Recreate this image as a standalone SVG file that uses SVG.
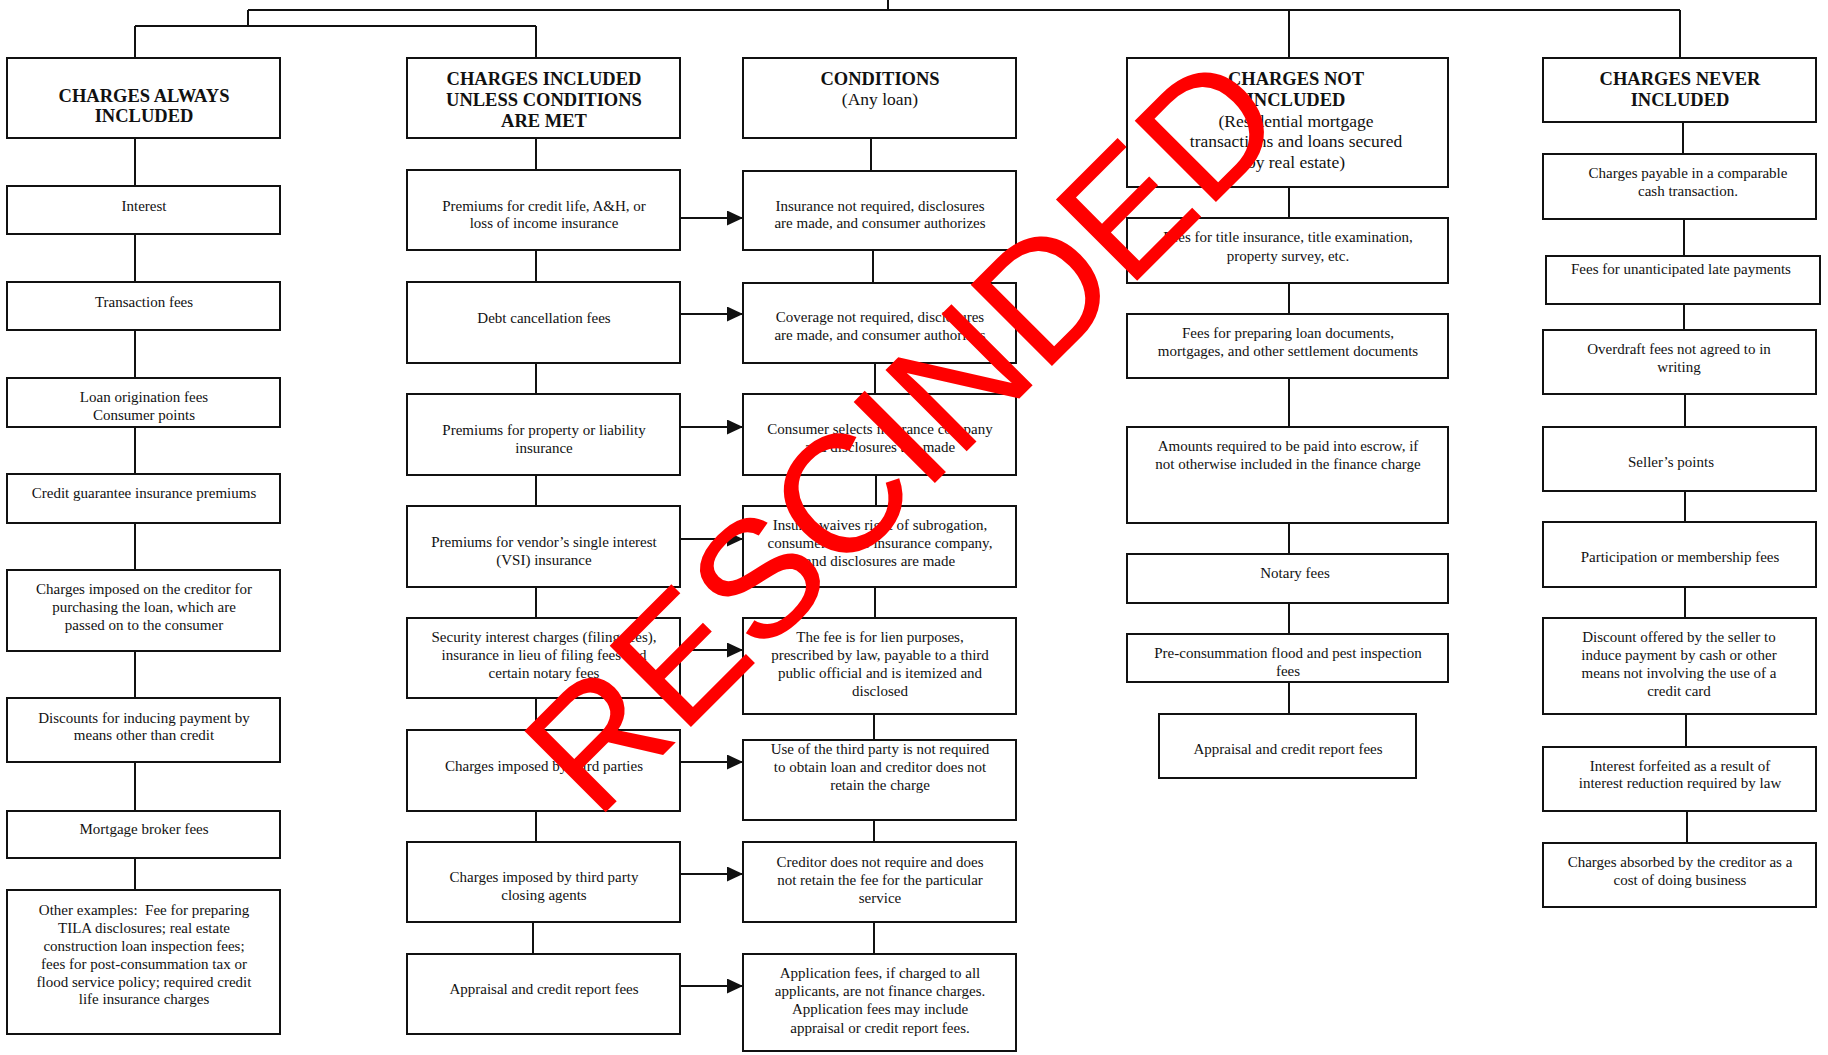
<svg xmlns="http://www.w3.org/2000/svg" width="1828" height="1055" viewBox="0 0 1828 1055">
<style>
.box{fill:#fff;stroke:#111;stroke-width:2}
.t{font-family:"Liberation Serif","Times New Roman",serif;font-size:15px;fill:#111;text-anchor:middle}
.h{font-weight:bold;font-size:18.5px}
.s{font-size:17.5px}
.c{stroke:#111;stroke-width:2;fill:none}
.wm{font-family:"Liberation Sans",Arial,sans-serif;font-size:167px;fill:#ff0000}
</style>
<defs>
<marker id="ah" markerUnits="userSpaceOnUse" markerWidth="16" markerHeight="16" refX="16" refY="7.5" orient="auto">
<path d="M0,0 L16,7.5 L0,15 z" fill="#111"/>
</marker>
</defs>
<rect width="1828" height="1055" fill="#fff"/>
<g id="connectors" class="c">
<path d="M888,0 V10 M248,10 H1680 M248,10 V26 M135,26 H536 M135,26 V58 M536,26 V58 M1289,10 V58 M1680,10 V58"/>
<path d="M135,138 V186 M135,234 V282 M135,330 V378 M135,427 V474 M135,523 V570 M135,651 V698 M135,762 V811 M135,858 V890"/>
<path d="M536,138 V170 M536,250 V282 M536,363 V394 M536,475 V506 M536,587 V618 M536,698 V730 M536,811 V842 M533,922 V954"/>
<path d="M871,138 V171 M873,250 V283 M875,363 V394 M876,475 V506 M875,587 V618 M874,714 V740 M874,820 V842 M874,922 V954"/>
<path d="M1289,187 V218 M1289,283 V314 M1289,378 V427 M1289,523 V554 M1289,603 V634 M1289,682 V714"/>
<path d="M1683,122 V154 M1684,219 V256 M1684,304 V330 M1685,394 V427 M1685,491 V522 M1685,587 V618 M1686,714 V747 M1687,811 V843"/>
<g marker-end="url(#ah)">
<path d="M681,218 H743"/><path d="M681,314 H743"/><path d="M681,427 H743"/><path d="M681,539 H743"/>
<path d="M681,650 H743"/><path d="M681,762 H743"/><path d="M681,874 H743"/><path d="M681,986 H743"/>
</g>
</g>

<g id="c1-header"><rect class="box" x="7" y="58" width="273" height="80"/><text class="t h"><tspan x="144" y="101.5">CHARGES ALWAYS</tspan><tspan x="144" y="122">INCLUDED</tspan></text></g>
<g id="c1-interest"><rect class="box" x="7" y="186" width="273" height="48"/><text class="t" x="144" y="211">Interest</text></g>
<g id="c1-transaction"><rect class="box" x="7" y="282" width="273" height="48"/><text class="t" x="144" y="307">Transaction fees</text></g>
<g id="c1-origination"><rect class="box" x="7" y="378" width="273" height="49"/><text class="t"><tspan x="144" y="401.5">Loan origination fees</tspan><tspan x="144" y="420">Consumer points</tspan></text></g>
<g id="c1-guarantee"><rect class="box" x="7" y="474" width="273" height="49"/><text class="t" x="144" y="498">Credit guarantee insurance premiums</text></g>
<g id="c1-purchasing"><rect class="box" x="7" y="570" width="273" height="81"/><text class="t"><tspan x="144" y="594">Charges imposed on the creditor for</tspan><tspan x="144" y="612">purchasing the loan, which are</tspan><tspan x="144" y="630">passed on to the consumer</tspan></text></g>
<g id="c1-discounts"><rect class="box" x="7" y="698" width="273" height="64"/><text class="t"><tspan x="144" y="722.5">Discounts for inducing payment by</tspan><tspan x="144" y="740">means other than credit</tspan></text></g>
<g id="c1-broker"><rect class="box" x="7" y="811" width="273" height="47"/><text class="t" x="144" y="834">Mortgage broker fees</text></g>
<g id="c1-other"><rect class="box" x="7" y="890" width="273" height="144"/><text class="t" xml:space="preserve"><tspan x="144" y="914.5">Other examples:  Fee for preparing</tspan><tspan x="144" y="932.5">TILA disclosures; real estate</tspan><tspan x="144" y="950.5">construction loan inspection fees;</tspan><tspan x="144" y="968.5">fees for post-consummation tax or</tspan><tspan x="144" y="986.5">flood service policy; required credit</tspan><tspan x="144" y="1004">life insurance charges</tspan></text></g>

<g id="c2-header"><rect class="box" x="407" y="58" width="273" height="80"/><text class="t h"><tspan x="544" y="85">CHARGES INCLUDED</tspan><tspan x="544" y="106">UNLESS CONDITIONS</tspan><tspan x="544" y="127">ARE MET</tspan></text></g>
<g id="c2-creditlife"><rect class="box" x="407" y="170" width="273" height="80"/><text class="t"><tspan x="544" y="210.5">Premiums for credit life, A&amp;H, or</tspan><tspan x="544" y="228">loss of income insurance</tspan></text></g>
<g id="c2-debt"><rect class="box" x="407" y="282" width="273" height="81"/><text class="t" x="544" y="322.5">Debt cancellation fees</text></g>
<g id="c2-property"><rect class="box" x="407" y="394" width="273" height="81"/><text class="t"><tspan x="544" y="434.5">Premiums for property or liability</tspan><tspan x="544" y="452.5">insurance</tspan></text></g>
<g id="c2-vsi"><rect class="box" x="407" y="506" width="273" height="81"/><text class="t"><tspan x="544" y="546.5">Premiums for vendor’s single interest</tspan><tspan x="544" y="564.5">(VSI) insurance</tspan></text></g>
<g id="c2-security"><rect class="box" x="407" y="618" width="273" height="80"/><text class="t"><tspan x="544" y="642">Security interest charges (filing fees),</tspan><tspan x="544" y="660">insurance in lieu of filing fees and</tspan><tspan x="544" y="678">certain notary fees</tspan></text></g>
<g id="c2-thirdparties"><rect class="box" x="407" y="730" width="273" height="81"/><text class="t" x="544" y="770.5">Charges imposed by third parties</text></g>
<g id="c2-closing"><rect class="box" x="407" y="842" width="273" height="80"/><text class="t"><tspan x="544" y="881.5">Charges imposed by third party</tspan><tspan x="544" y="900">closing agents</tspan></text></g>
<g id="c2-appraisal"><rect class="box" x="407" y="954" width="273" height="80"/><text class="t" x="544" y="993.5">Appraisal and credit report fees</text></g>

<g id="c3-header"><rect class="box" x="743" y="58" width="273" height="80"/><text class="t"><tspan class="h" x="880" y="85">CONDITIONS</tspan><tspan class="s" x="880" y="105">(Any loan)</tspan></text></g>
<g id="c3-insurance"><rect class="box" x="743" y="171" width="273" height="79"/><text class="t"><tspan x="880" y="210.5">Insurance not required, disclosures</tspan><tspan x="880" y="228">are made, and consumer authorizes</tspan></text></g>
<g id="c3-coverage"><rect class="box" x="743" y="283" width="273" height="80"/><text class="t"><tspan x="880" y="322">Coverage not required, disclosures</tspan><tspan x="880" y="340">are made, and consumer authorizes</tspan></text></g>
<g id="c3-selects"><rect class="box" x="743" y="394" width="273" height="81"/><text class="t"><tspan x="880" y="434">Consumer selects insurance company</tspan><tspan x="880" y="452">and disclosures are made</tspan></text></g>
<g id="c3-waives"><rect class="box" x="743" y="506" width="273" height="81"/><text class="t"><tspan x="880" y="530">Insurer waives right of subrogation,</tspan><tspan x="880" y="548">consumer selects insurance company,</tspan><tspan x="880" y="566">and disclosures are made</tspan></text></g>
<g id="c3-lien"><rect class="box" x="743" y="618" width="273" height="96"/><text class="t"><tspan x="880" y="642">The fee is for lien purposes,</tspan><tspan x="880" y="660">prescribed by law, payable to a third</tspan><tspan x="880" y="678">public official and is itemized and</tspan><tspan x="880" y="696">disclosed</tspan></text></g>
<g id="c3-thirdparty"><rect class="box" x="743" y="740" width="273" height="80"/><text class="t"><tspan x="880" y="754">Use of the third party is not required</tspan><tspan x="880" y="772">to obtain loan and creditor does not</tspan><tspan x="880" y="790">retain the charge</tspan></text></g>
<g id="c3-creditor"><rect class="box" x="743" y="842" width="273" height="80"/><text class="t"><tspan x="880" y="866.5">Creditor does not require and does</tspan><tspan x="880" y="884.5">not retain the fee for the particular</tspan><tspan x="880" y="902.5">service</tspan></text></g>
<g id="c3-application"><rect class="box" x="743" y="954" width="273" height="97"/><text class="t"><tspan x="880" y="977.5">Application fees, if charged to all</tspan><tspan x="880" y="996">applicants, are not finance charges.</tspan><tspan x="880" y="1014">Application fees may include</tspan><tspan x="880" y="1032.5">appraisal or credit report fees.</tspan></text></g>

<g id="c4-header"><rect class="box" x="1127" y="58" width="321" height="129"/><text class="t"><tspan class="h" x="1296" y="85">CHARGES NOT</tspan><tspan class="h" x="1296" y="106">INCLUDED</tspan><tspan class="s" x="1296" y="126.5">(Residential mortgage</tspan><tspan class="s" x="1296" y="147">transactions and loans secured</tspan><tspan class="s" x="1296" y="168">by real estate)</tspan></text></g>
<g id="c4-title"><rect class="box" x="1127" y="218" width="321" height="65"/><text class="t"><tspan x="1288" y="242">Fees for title insurance, title examination,</tspan><tspan x="1288" y="260.5">property survey, etc.</tspan></text></g>
<g id="c4-preparing"><rect class="box" x="1127" y="314" width="321" height="64"/><text class="t"><tspan x="1288" y="338">Fees for preparing loan documents,</tspan><tspan x="1288" y="356">mortgages, and other settlement documents</tspan></text></g>
<g id="c4-escrow"><rect class="box" x="1127" y="427" width="321" height="96"/><text class="t"><tspan x="1288" y="451">Amounts required to be paid into escrow, if</tspan><tspan x="1288" y="469">not otherwise included in the finance charge</tspan></text></g>
<g id="c4-notary"><rect class="box" x="1127" y="554" width="321" height="49"/><text class="t" x="1295" y="578">Notary fees</text></g>
<g id="c4-preconsummation"><rect class="box" x="1127" y="634" width="321" height="48"/><text class="t"><tspan x="1288" y="658">Pre-consummation flood and pest inspection</tspan><tspan x="1288" y="676">fees</tspan></text></g>
<g id="c4-appraisal"><rect class="box" x="1159" y="714" width="257" height="64"/><text class="t" x="1288" y="754">Appraisal and credit report fees</text></g>

<g id="c5-header"><rect class="box" x="1543" y="58" width="273" height="64"/><text class="t h"><tspan x="1680" y="85">CHARGES NEVER</tspan><tspan x="1680" y="106">INCLUDED</tspan></text></g>
<g id="c5-cash"><rect class="box" x="1543" y="154" width="273" height="65"/><text class="t"><tspan x="1688" y="177.5">Charges payable in a comparable</tspan><tspan x="1688" y="196">cash transaction.</tspan></text></g>
<g id="c5-late"><rect class="box" x="1546" y="256" width="274" height="48"/><text class="t" x="1681" y="273.5">Fees for unanticipated late payments</text></g>
<g id="c5-overdraft"><rect class="box" x="1543" y="330" width="273" height="64"/><text class="t"><tspan x="1679" y="353.5">Overdraft fees not agreed to in</tspan><tspan x="1679" y="371.5">writing</tspan></text></g>
<g id="c5-seller"><rect class="box" x="1543" y="427" width="273" height="64"/><text class="t" x="1671" y="466.5">Seller’s points</text></g>
<g id="c5-membership"><rect class="box" x="1543" y="522" width="273" height="65"/><text class="t" x="1680" y="561.5">Participation or membership fees</text></g>
<g id="c5-discount"><rect class="box" x="1543" y="618" width="273" height="96"/><text class="t"><tspan x="1679" y="642">Discount offered by the seller to</tspan><tspan x="1679" y="660">induce payment by cash or other</tspan><tspan x="1679" y="678">means not involving the use of a</tspan><tspan x="1679" y="696">credit card</tspan></text></g>
<g id="c5-forfeited"><rect class="box" x="1543" y="747" width="273" height="64"/><text class="t"><tspan x="1680" y="770.5">Interest forfeited as a result of</tspan><tspan x="1680" y="788">interest reduction required by law</tspan></text></g>
<g id="c5-absorbed"><rect class="box" x="1543" y="843" width="273" height="64"/><text class="t"><tspan x="1680" y="866.5">Charges absorbed by the creditor as a</tspan><tspan x="1680" y="884.5">cost of doing business</tspan></text></g>

<g id="watermark"><text class="wm" transform="translate(596,822) rotate(-45)">RESCINDED</text></g>
</svg>
